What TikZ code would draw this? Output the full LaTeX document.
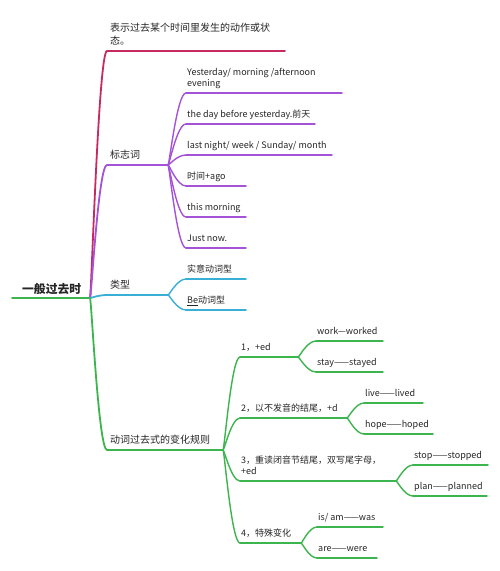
\documentclass[tikz,border=0pt]{standalone}
\usepackage{fontspec}
\setmainfont{Noto Sans CJK SC}
\usetikzlibrary{calc}
\definecolor{cr}{HTML}{C62A5F}
\definecolor{pu}{HTML}{A452D6}
\definecolor{cy}{HTML}{3AAFD5}
\definecolor{gr}{HTML}{3DB54E}
\definecolor{tx}{HTML}{262626}
\newcommand\mmlink[3]{\draw[#1] (#2) .. controls ($(#2)!0.08!(#2-|#3)$) and ($(#2|-#3)!0.5!(#3)$) .. (#3);}
\newcommand\lA{\fontsize{10}{13}\selectfont}
\newcommand\lB{\fontsize{9}{11}\selectfont}
\tikzset{
  main/.style={line width=1.8pt, line cap=round},
  sub/.style={line width=1.4pt, line cap=round},
  tA/.style={anchor=south west, inner sep=0pt, text=tx, font=\lA, align=left},
  tB/.style={anchor=south west, inner sep=0pt, text=tx, font=\lB, align=left},
}
\begin{document}
\begin{tikzpicture}[x=1pt,y=-1pt]
\useasboundingbox (0,0) rectangle (500,571);
\fill[white] (0,0) rectangle (500,571);
% coordinates
\coordinate (L0) at (12,298); \coordinate (R) at (90,298);
\coordinate (c0) at (107,51); \coordinate (c1) at (285,51);
\coordinate (p0) at (107,165); \coordinate (p1) at (168,165);
\coordinate (pa0) at (186,93); \coordinate (pa1) at (342,93);
\coordinate (pb0) at (186,124); \coordinate (pb1) at (315,124);
\coordinate (pc0) at (186,155); \coordinate (pc1) at (332,155);
\coordinate (pd0) at (186,186); \coordinate (pd1) at (246,186);
\coordinate (pe0) at (186,217); \coordinate (pe1) at (246,217);
\coordinate (pf0) at (186,248); \coordinate (pf1) at (246,248);
\coordinate (y0) at (107,295); \coordinate (y1) at (168,295);
\coordinate (ya0) at (186,279); \coordinate (ya1) at (246,279);
\coordinate (yb0) at (186,310); \coordinate (yb1) at (246,310);
\coordinate (g0) at (107,450); \coordinate (g1) at (223,450);
\coordinate (ga0) at (240,357); \coordinate (ga1) at (298,357);
\coordinate (gaa0) at (316,341); \coordinate (gaa1) at (383,341);
\coordinate (gab0) at (316,372); \coordinate (gab1) at (383,372);
\coordinate (gb0) at (240,418); \coordinate (gb1) at (347,418);
\coordinate (gba0) at (364,403); \coordinate (gba1) at (423,403);
\coordinate (gbb0) at (364,434); \coordinate (gbb1) at (433,434);
\coordinate (gc0) at (240,481); \coordinate (gc1) at (396,481);
\coordinate (gca0) at (413,465); \coordinate (gca1) at (488,465);
\coordinate (gcb0) at (413,496); \coordinate (gcb1) at (487,496);
\coordinate (gd0) at (240,543); \coordinate (gd1) at (301,543);
\coordinate (gda0) at (317,527); \coordinate (gda1) at (383,527);
\coordinate (gdb0) at (317,558); \coordinate (gdb1) at (377,558);

% root
\draw[main, gr] (L0) -- (R);
\node[anchor=base west, inner sep=0pt, text=tx, font=\fontsize{11.8}{14}\selectfont\bfseries] (root) at (22,293) {一般过去时};

% crimson branch
\mmlink{main,cr}{R}{c0}
\draw[main,cr] (c0) -- (c1);
\node[tA] (tc) at ($(c0)+(3,-2)$) {表示过去某个时间里发生的动作或状\\态。\strut};

% purple branch
\mmlink{main,pu}{R}{p0}
\draw[main,pu] (p0) -- (p1);
\node[tA] (tp) at ($(p0)+(3,-2)$) {标志词\strut};
\foreach \k in {pa,pb,pc,pd,pe,pf}{
  \mmlink{sub,pu}{p1}{\k0}
  \draw[sub,pu] (\k0) -- (\k1);
}
\node[tB] (tpa) at ($(pa0)+(1,-3)$) {Yesterday/ morning /afternoon\\evening\strut};
\node[tB] (tpb) at ($(pb0)+(1,-3)$) {the day before yesterday.前天\strut};
\node[tB] (tpc) at ($(pc0)+(1,-3)$) {last night/ week / Sunday/ month\strut};
\node[tB] (tpd) at ($(pd0)+(1,-3)$) {时间+ago\strut};
\node[tB] (tpe) at ($(pe0)+(1,-3)$) {this morning\strut};
\node[tB] (tpf) at ($(pf0)+(1,-3)$) {Just now.\strut};

% cyan branch
\mmlink{main,cy}{R}{y0}
\draw[main,cy] (y0) -- (y1);
\node[tA] (ty) at ($(y0)+(3,-2)$) {类型\strut};
\foreach \k in {ya,yb}{
  \mmlink{sub,cy}{y1}{\k0}
  \draw[sub,cy] (\k0) -- (\k1);
}
\node[tB] (tya) at ($(ya0)+(1,-3)$) {实意动词型\strut};
\node[tB] (tyb) at ($(yb0)+(1,-3)$) {\underline{Be}动词型\strut};

% green branch
\mmlink{main,gr}{R}{g0}
\draw[main,gr] (g0) -- (g1);
\node[tA] (tg) at ($(g0)+(3,-2)$) {动词过去式的变化规则\strut};
\foreach \k in {ga,gb,gc,gd}{
  \mmlink{sub,gr}{g1}{\k0}
  \draw[sub,gr] (\k0) -- (\k1);
}
\node[tB] (tga) at ($(ga0)+(1,-3)$) {1，+ed\strut};
\node[tB] (tgb) at ($(gb0)+(1,-3)$) {2，以不发音的结尾，+d\strut};
\node[tB] (tgc) at ($(gc0)+(1,-3)$) {3，重读闭音节结尾，双写尾字母，\\+ed\strut};
\node[tB] (tgd) at ($(gd0)+(1,-3)$) {4，特殊变化\strut};
\foreach \p/\k in {ga/gaa,ga/gab,gb/gba,gb/gbb,gc/gca,gc/gcb,gd/gda,gd/gdb}{
  \mmlink{sub,gr}{\p1}{\k0}
  \draw[sub,gr] (\k0) -- (\k1);
}
\node[tB] (tgaa) at ($(gaa0)+(1,-3)$) {work—worked\strut};
\node[tB] (tgab) at ($(gab0)+(1,-3)$) {stay——stayed\strut};
\node[tB] (tgba) at ($(gba0)+(1,-3)$) {live——lived\strut};
\node[tB] (tgbb) at ($(gbb0)+(1,-3)$) {hope——hoped\strut};
\node[tB] (tgca) at ($(gca0)+(1,-3)$) {stop——stopped\strut};
\node[tB] (tgcb) at ($(gcb0)+(1,-3)$) {plan——planned\strut};
\node[tB] (tgda) at ($(gda0)+(1,-3)$) {is/ am——was\strut};
\node[tB] (tgdb) at ($(gdb0)+(1,-3)$) {are——were\strut};
\end{tikzpicture}
\end{document}
